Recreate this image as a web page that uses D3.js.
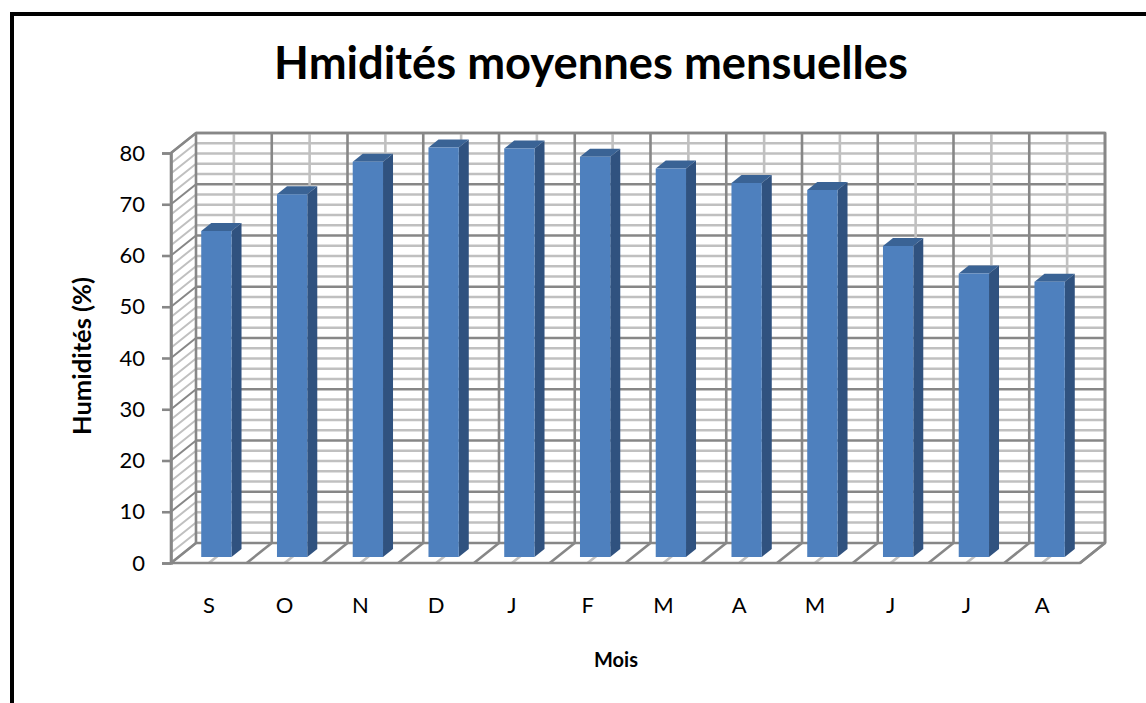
<!DOCTYPE html>
<html>
<head>
<meta charset="utf-8">
<script src="https://cdn.jsdelivr.net/npm/d3@7"></script>
<style>
  html, body { margin: 0; padding: 0; background: #fff; }
  svg { display: block; }
  text { font-family: Lato, "Open Sans", sans-serif; fill: #000; }
</style>
</head>
<body>
<svg id="chart" width="1146" height="703"></svg>
<script>
// Monthly mean relative humidity (%), September to August
const months = ["S", "O", "N", "D", "J", "F", "M", "A", "M", "J", "J", "A"];
const humidity = [63.6, 70.8, 77.1, 79.9, 79.7, 78.1, 75.8, 73.0, 71.6, 60.7, 55.3, 53.7];
const yTicks = [0, 10, 20, 30, 40, 50, 60, 70, 80];
const titleText = "Hmidités moyennes mensuelles";
const yTitle = "Humidités (%)";
const xTitle = "Mois";

const svg = d3.select("#chart");

// Plot box (front face) and oblique depth offset of the 3-D walls
const X0 = 171, Y0 = 563, W = 909, H = 410;
const DX = 25, DY = 20;
const MAJOR = "#878787", MINOR = "#c0c0c0";

const x = d3.scaleBand()
  .domain(d3.range(months.length))
  .range([0, W])
  .paddingInner(0.6)
  .paddingOuter(0.3);
const step = x.step();
const y = d3.scaleLinear().domain([0, 80]).range([0, H]);

// project a point (horizontal offset, value, depth 0..1) to screen coordinates
const P = (px, v, d) => [X0 + px + d * DX, Y0 - y(v) - d * DY];
const line = d3.line();

// outer frame
svg.append("path")
  .attr("d", "M12,710 L12,14 L1160,14")
  .attr("fill", "none").attr("stroke", "#000").attr("stroke-width", 4);

const grid = svg.append("g").attr("fill", "none").attr("stroke-width", 2.6);

// horizontal gridlines on back wall and hatch lines on the side wall
const minorVals = d3.range(0, 81, 2);
minorVals.forEach(v => {
  const major = v % 10 === 0;
  grid.append("path")
    .attr("d", line([P(0, v, 0), P(0, v, 1)]))
    .attr("stroke", major ? MAJOR : MINOR).attr("stroke-width", 2);
  grid.append("path")
    .attr("d", line([P(0, v, 1), P(W, v, 1)]))
    .attr("stroke", major ? MAJOR : MINOR);
});

// vertical gridlines on back wall and matching lines across the floor
d3.range(months.length * 2 + 1).forEach(k => {
  const px = k * step / 2;
  const major = k % 2 === 0;
  const col = major ? MAJOR : MINOR;
  grid.append("path")
    .attr("d", line([P(px, 0, 1), P(px, 80, 1)]))
    .attr("stroke", col);
  grid.append("path")
    .attr("d", line([P(px, 0, 0), P(px, 0, 1)]))
    .attr("stroke", col);
});

// wall and floor outlines
grid.append("path")
  .attr("d", line([P(0, 80, 0), P(0, 80, 1), P(W, 80, 1), P(W, 0, 1), P(W, 0, 0), P(0, 0, 0), P(0, 80, 0)]))
  .attr("stroke", MAJOR);

// value axis on the front-left edge
const yAxisScale = d3.scaleLinear().domain([0, 80]).range([Y0, Y0 - H]);
const yAxis = svg.append("g")
  .attr("transform", `translate(${X0},0)`)
  .call(d3.axisLeft(yAxisScale).tickValues(yTicks).tickSize(9).tickPadding(17));
yAxis.select(".domain").attr("stroke", MAJOR).attr("stroke-width", 2.6);
yAxis.selectAll(".tick line").attr("stroke", MAJOR).attr("stroke-width", 2.6);
yAxis.selectAll(".tick text")
  .attr("font-family", "Lato, sans-serif").attr("font-size", 22).attr("fill", "#000");

// columns
const bars = svg.append("g");
const bw = x.bandwidth();
const d1 = 0.3, d2 = 0.7;
humidity.forEach((v, i) => {
  const x1 = x(i), x2 = x1 + bw;
  const g = bars.append("g");
  g.append("path")
    .attr("d", line([P(x2, 0, d1), P(x2, 0, d2), P(x2, v, d2), P(x2, v, d1)]) + "Z")
    .attr("fill", "#30527f");
  g.append("path")
    .attr("d", line([P(x1, v, d1), P(x2, v, d1), P(x2, v, d2), P(x1, v, d2)]) + "Z")
    .attr("fill", "#3a6395");
  g.append("path")
    .attr("d", line([P(x1, 0, d1), P(x2, 0, d1), P(x2, v, d1), P(x1, v, d1)]) + "Z")
    .attr("fill", "#4e80be");
});

// category labels
const xAxisScale = d3.scaleBand().domain(d3.range(months.length)).range([X0, X0 + W]);
const xAxis = svg.append("g")
  .attr("transform", `translate(0,${Y0 + 34})`)
  .call(d3.axisBottom(xAxisScale).tickSize(0).tickPadding(0).tickFormat(i => months[i]));
xAxis.select(".domain").remove();
xAxis.selectAll(".tick text")
  .attr("font-family", "Lato, sans-serif").attr("font-size", 22).attr("fill", "#000");

// fit a text element to a given length by scaling its font size
function fit(sel, target) {
  const base = +sel.attr("font-size");
  const len = sel.node().getComputedTextLength();
  sel.attr("font-size", base * target / len);
}

const title = svg.append("text")
  .attr("x", 591).attr("y", 79)
  .attr("text-anchor", "middle")
  .attr("font-weight", "bold").attr("font-size", 40)
  .text(titleText);
fit(title, 634);

const yt = svg.append("text")
  .attr("transform", "translate(91,356) rotate(-90)")
  .attr("text-anchor", "middle")
  .attr("font-weight", "bold").attr("font-size", 20)
  .text(yTitle);
fit(yt, 158);

svg.append("text")
  .attr("x", 616).attr("y", 667)
  .attr("text-anchor", "middle")
  .attr("font-weight", "bold").attr("font-size", 20)
  .text(xTitle);
</script>
</body>
</html>
